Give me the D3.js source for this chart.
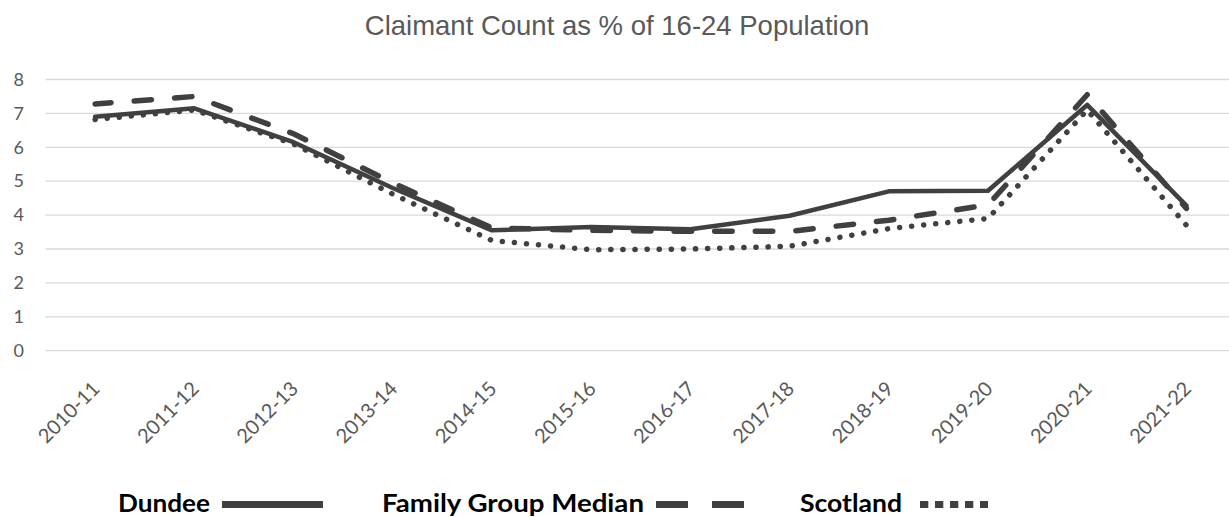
<!DOCTYPE html>
<html>
<head>
<meta charset="utf-8">
<script src="https://cdn.jsdelivr.net/npm/d3@7"></script>
<style>
  body { margin: 0; background: #fff; }
  svg { display: block; }
</style>
</head>
<body>
<svg id="chart" width="1229" height="517"></svg>
<script>
// values
var years = ["2010-11", "2011-12", "2012-13", "2013-14", "2014-15", "2015-16",
             "2016-17", "2017-18", "2018-19", "2019-20", "2020-21", "2021-22"];
var dundee = [6.9, 7.15, 6.15, 4.8, 3.55, 3.65, 3.58, 3.98, 4.7, 4.72, 7.25, 4.28];
var familyMedian = [7.28, 7.5, 6.4, 4.95, 3.62, 3.55, 3.52, 3.52, 3.85, 4.3, 7.55, 4.2];
var scotland = [6.82, 7.1, 6.1, 4.62, 3.25, 2.98, 3.0, 3.08, 3.6, 3.9, 7.1, 3.7];
var yTicks = [0, 1, 2, 3, 4, 5, 6, 7, 8];

var seriesNames = ["Dundee", "Family Group Median", "Scotland"];

var W = 1229, H = 517;
var lineColor = "#404040";
var svg = d3.select("#chart");

var x = d3.scaleBand()
    .domain(years)
    .range([45.5, 1236]);

var y = d3.scaleLinear()
    .domain([0, 8])
    .range([350.7, 79.5]);

// title
svg.append("text")
  .attr("x", 617)
  .attr("y", 35)
  .attr("text-anchor", "middle")
  .attr("font-family", "'Liberation Sans', Arial, sans-serif")
  .attr("font-size", 27.5)
  .attr("fill", "#595959")
  .text("Claimant Count as % of 16-24 Population");

// gridlines
svg.append("g")
  .selectAll("line")
  .data(yTicks)
  .enter()
  .append("line")
  .attr("x1", 45.5)
  .attr("x2", W)
  .attr("y1", d => y(d))
  .attr("y2", d => y(d))
  .attr("stroke", "#d9d9d9")
  .attr("stroke-width", 1.3);

// y axis labels
var yAxis = d3.axisLeft(y).tickValues(yTicks).tickSize(0).tickPadding(0);
var yg = svg.append("g")
  .attr("transform", "translate(24,0)")
  .call(yAxis);
yg.select(".domain").remove();
yg.selectAll("text")
  .attr("font-family", "Lato, 'Open Sans', sans-serif")
  .attr("font-size", 18)
  .attr("fill", "#595959");

// x axis labels
var xAxis = d3.axisBottom(x).tickSize(0).tickPadding(0);
var xg = svg.append("g")
  .attr("transform", "translate(0,385)")
  .call(xAxis);
xg.select(".domain").remove();
xg.selectAll("text")
  .attr("font-family", "Lato, 'Open Sans', sans-serif")
  .attr("font-size", 20)
  .attr("fill", "#595959")
  .attr("text-anchor", "end")
  .attr("dy", "0.35em")
  .attr("transform", "translate(1,0) rotate(-45)");

// lines
var px = (d, i) => x(years[i]) + x.bandwidth() / 2;
var line = d3.line()
  .x(px)
  .y(d => y(d));

// length along a series up to point k, so the dash pattern can be lined up
function lengthTo(data, k) {
  var len = 0;
  for (var i = 1; i <= k; i++) {
    var dx = px(data[i], i) - px(data[i - 1], i - 1);
    var dy = y(data[i]) - y(data[i - 1]);
    len += Math.sqrt(dx * dx + dy * dy);
  }
  return len;
}

// pick a period near 40px so a dash starts at the first point and ends at the 2020-21 peak
var peakLen = lengthTo(familyMedian, 10);
var nDash = Math.round((peakLen - 16) / 40);
var period = (peakLen - 16) / nDash;
var dashOn = 0.43 * period;
var medianDash = dashOn + "," + (period - dashOn);
var medianOffset = -(16 - dashOn);

var styles = [
  {data: dundee, width: 4.5, dash: null, offset: 0},
  {data: familyMedian, width: 5.5, dash: medianDash, offset: medianOffset},
  {data: scotland, width: 5.5, dash: "0.1,12", offset: 0}
];

// draw scotland first, then median, dundee on top
[2, 1, 0].forEach(function(k) {
  var s = styles[k];
  svg.append("path")
    .datum(s.data)
    .attr("d", line)
    .attr("fill", "none")
    .attr("stroke", lineColor)
    .attr("stroke-width", s.width)
    .attr("stroke-linecap", "round")
    .attr("stroke-linejoin", "round")
    .attr("stroke-dasharray", s.dash)
    .attr("stroke-dashoffset", s.offset);
});

// legend
var legendBase = 511.5;
var swatchY = 504.5;
var legendFont = "Lato, 'Open Sans', sans-serif";
var legendItems = [
  {name: seriesNames[0], tx: 118, tw: 92, sx: 222, sw: 101, dash: null},
  {name: seriesNames[1], tx: 382, tw: 262, sx: 656, sw: 88, dash: "32,24"},
  {name: seriesNames[2], tx: 800, tw: 102, sx: 920, sw: 68, dash: "8.3,6.7"}
];

var lg = svg.append("g");
legendItems.forEach(function(d) {
  lg.append("text")
    .attr("x", d.tx)
    .attr("y", legendBase)
    .attr("font-family", legendFont)
    .attr("font-weight", "bold")
    .attr("font-size", 25.5)
    .attr("textLength", d.tw)
    .attr("lengthAdjust", "spacingAndGlyphs")
    .attr("fill", "#000")
    .text(d.name);
  lg.append("line")
    .attr("x1", d.sx)
    .attr("x2", d.sx + d.sw)
    .attr("y1", swatchY)
    .attr("y2", swatchY)
    .attr("stroke", lineColor)
    .attr("stroke-width", 7)
    .attr("stroke-dasharray", d.dash);
});
</script>
</body>
</html>
